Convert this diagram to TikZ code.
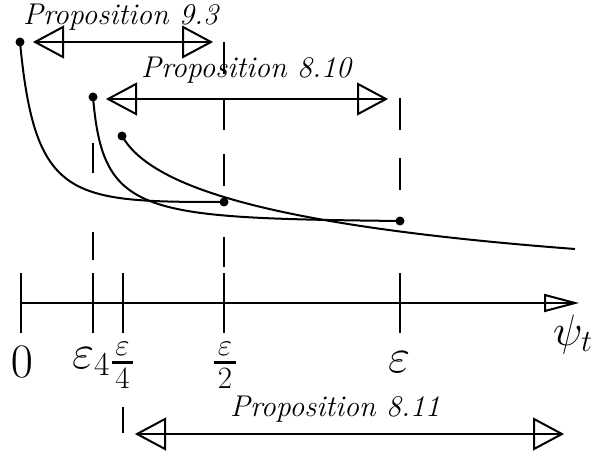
\RequirePackage{fix-cm}
\documentclass[tikz,border=0pt]{standalone}
\usepackage{fontspec}
\tikzset{
 ln/.style={line width=2pt},
 dotn/.style={circle,fill,inner sep=0pt,minimum size=9pt},
 ltri/.pic={\draw[ln,line join=miter] (0,0) -- (28,-15) -- (28,15) -- cycle;},
 rtri/.pic={\draw[ln,line join=miter] (0,0) -- (-28,-15) -- (-28,15) -- cycle;},
 axtri/.pic={\draw[ln,line join=miter] (0,0) -- (-30,-8) -- (-30,8) -- cycle;},
 proptext/.style={inner sep=0pt,anchor=base west,font=\fontsize{30}{34}\selectfont\itshape},
 mathlab/.style={inner sep=0pt,font=\fontsize{48}{56}\selectfont},
 fraclab/.style={inner sep=0pt,anchor=base,font=\fontsize{31}{36}\selectfont},
 fracbar/.style={line width=3pt},
}
\begin{document}
\begin{tikzpicture}[x=1pt,y=-1pt]
\useasboundingbox (0,0) rectangle (594,457);
% dots
\node[dotn] (d1) at (20,42) {};
\node[dotn] (e1) at (224,202) {};
\node[dotn] (d2) at (93,97) {};
\node[dotn] (e2) at (400,221) {};
\node[dotn] (d3) at (122,136) {};
\coordinate (e3) at (575,249);
% curves
\draw[ln] (d1.center) .. controls (35,200) and (70,202) .. (e1.center);
\draw[ln] (d2.center) .. controls (103,215) and (140,218) .. (e2.center);
\draw[ln] (d3.center) .. controls (150,185) and (260,225) .. (e3);
% axis
\coordinate (ax0) at (21,303);
\coordinate (ax1) at (575,303);
\draw[ln] (ax0) -- (ax1);
\pic at (ax1) {axtri};
% ticks
\foreach \x/\n in {21/t0,93/t1,123/t2,224/t3,400/t4}{
  \coordinate (\n a) at (\x,273);
  \coordinate (\n b) at (\x,333);
  \draw[ln] (\n a) -- (\n b);
}
% guide lines
\coordinate (g3top) at (224,42);
\draw[ln,dash pattern=on 32pt off 24pt] (g3top) -- (e1.center);
\coordinate (g3a) at (224,237);
\coordinate (g3b) at (224,267);
\draw[ln] (g3a) -- (g3b);
\coordinate (g4top) at (400,98);
\draw[ln,dash pattern=on 32pt off 28pt] (g4top) -- (e2.center);
\coordinate (g1a) at (93,143);
\coordinate (g1b) at (93,260);
\draw[ln,dash pattern=on 30pt off 59pt] (g1a) -- (g1b);
\coordinate (g2a) at (123,407);
\coordinate (g2b) at (123,433);
\draw[ln] (g2a) -- (g2b);
% proposition arrows
\coordinate (a1l) at (35,42);
\coordinate (a1r) at (211,42);
\draw[ln] (a1l) -- (a1r);
\pic at (a1l) {ltri};
\pic at (a1r) {rtri};
\coordinate (a2l) at (108,99);
\coordinate (a2r) at (386,99);
\draw[ln] (a2l) -- (a2r);
\pic at (a2l) {ltri};
\pic at (a2r) {rtri};
\coordinate (a3l) at (137,434);
\coordinate (a3r) at (562,434);
\draw[ln] (a3l) -- (a3r);
\pic at (a3l) {ltri};
\pic at (a3r) {rtri};
% proposition labels
\node[proptext] (p93) at (23,24.5) {Proposition 9.3};
\node[proptext] (p810) at (141,78) {Proposition 8.10};
\node[proptext] (p811) at (230,416) {Proposition 8.11};
% axis labels
\node[mathlab,anchor=base] (l0) at (22,377) {$0$};
\node[mathlab,anchor=base west] (l1) at (72,368) {$\varepsilon_4$};
% fraction eps/4
\node[fraclab] (n4) at (122.5,355) {$\varepsilon$};
\coordinate (b4l) at (112,362);
\coordinate (b4r) at (133,362);
\draw[fracbar] (b4l) -- (b4r);
\node[fraclab] (q4) at (122.5,388) {$4$};
% fraction eps/2
\node[fraclab] (n2) at (225,355) {$\varepsilon$};
\coordinate (b2l) at (214,362);
\coordinate (b2r) at (236,362);
\draw[fracbar] (b2l) -- (b2r);
\node[fraclab] (q2) at (225,388) {$2$};
\node[mathlab,anchor=base] (l4) at (399,372) {$\varepsilon$};
\node[inner sep=0pt,anchor=base west,font=\fontsize{44}{52}\selectfont] (l5) at (553,345) {$\psi_t$};
\end{tikzpicture}
\end{document}
